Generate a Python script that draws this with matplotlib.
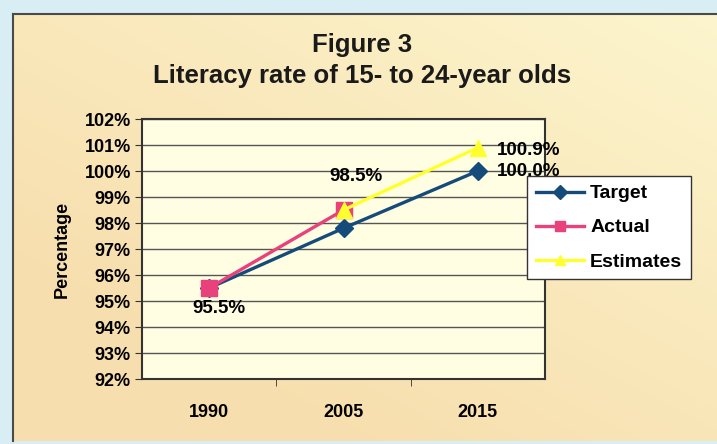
import numpy as np
import matplotlib
matplotlib.use("Agg")
import matplotlib.pyplot as plt

# data
years = ["1990", "2005", "2015"]
target = [95.5, 97.8, 100.0]
actual = [95.5, 98.5, None]
estimates = [None, 98.5, 100.9]
yticks = [92, 93, 94, 95, 96, 97, 98, 99, 100, 101, 102]

plt.rcParams['font.family'] = ['Liberation Sans', 'DejaVu Sans']
plt.rcParams['font.weight'] = 'bold'

W, H = 717, 444
fig = plt.figure(figsize=(W / 100, H / 100), dpi=100)
fig.patch.set_facecolor("#D8EEF4")

# cream panel with a soft gradient (peach at bottom left)
bg = fig.add_axes([13 / W, 3 / H, 1 - 13 / W, 1 - 17 / H])
gx, gy = np.meshgrid(np.linspace(0, 1, 200), np.linspace(0, 1, 200))
t = np.clip(0.6 * (1 - gx) + 0.7 * gy, 0, 1) / 1.3
c_top = np.array([252, 245, 205]) / 255
c_bot = np.array([246, 216, 165]) / 255
img = c_top[None, None, :] * (1 - t[..., None]) + c_bot[None, None, :] * t[..., None]
bg.imshow(img, aspect="auto", extent=[0, 1, 0, 1], origin="upper")
bg.set_xlim(0, 1)
bg.set_ylim(0, 1)
bg.set_xticks([])
bg.set_yticks([])
for s in ["right", "bottom"]:
    bg.spines[s].set_visible(False)
for s in ["left", "top"]:
    bg.spines[s].set_color("#4a4a4a")
    bg.spines[s].set_linewidth(1.5)

fig.text(362 / W, 1 - 45 / H, "Figure 3", ha="center", va="center",
         fontsize=18.5, fontweight="bold", color="#1a1a1a")
fig.text(362 / W, 1 - 76 / H, "Literacy rate of 15- to 24-year olds", ha="center",
         va="center", fontsize=18.5, fontweight="bold", color="#1a1a1a")

# plot area
left, right, top, bottom = 142, 545, 119, 379
ax = fig.add_axes([left / W, 1 - bottom / H, (right - left) / W, (bottom - top) / H])
ax.set_facecolor("#FFFDE2")
x = np.arange(len(years))

ax.plot(x, target, color="#154B7A", lw=2.4, marker="D", ms=9, zorder=3, label="Target")
ax.plot(x, [np.nan if v is None else v for v in actual], color="#E8417B", lw=2.4,
        marker="s", ms=11, zorder=4, label="Actual")
ax.plot(x, [np.nan if v is None else v for v in estimates], color="#FFFF2E", lw=2.4,
        marker="^", ms=11, zorder=5, label="Estimates")

ax.set_xlim(-0.5, 2.5)
ax.set_ylim(92, 102)
ax.set_yticks(yticks)
ax.set_yticklabels([f"{v}%" for v in yticks], fontsize=13, fontweight="bold")
ax.set_xticks(x)
ax.set_xticklabels(years, fontsize=13, fontweight="bold")
ax.tick_params(axis="x", length=0, pad=18)
ax.set_xticks([0.5, 1.5], minor=True)
ax.tick_params(axis="x", which="minor", length=5, direction="out", color="#333333")
ax.tick_params(axis="y", length=5, direction="out", color="#333333", pad=3)
ax.grid(axis="y", color="#555555", lw=1)
ax.set_axisbelow(True)
for s in ax.spines.values():
    s.set_color("#333333")
    s.set_linewidth(1.5)
ax.set_ylabel("Percentage", fontsize=13, fontweight="bold", labelpad=10)

lbl = dict(textcoords="offset points", va="center", fontsize=13.5, fontweight="bold")
ax.annotate("95.5%", (0, target[0]), xytext=(7, -15), ha="center", **lbl)
ax.annotate("98.5%", (1, actual[1]), xytext=(9, 24), ha="center", **lbl)
ax.annotate("100.9%", (2, estimates[2]), xytext=(14, -2), ha="left", **lbl)
ax.annotate("100.0%", (2, target[2]), xytext=(14, 0), ha="left", **lbl)

leg = fig.legend(loc="upper left", bbox_to_anchor=(527 / W, 1 - 176 / H),
                 frameon=True, fancybox=False, fontsize=14, handlelength=2.5,
                 borderpad=0.45, labelspacing=0.85, handletextpad=0.3,
                 borderaxespad=0)
leg.get_frame().set_edgecolor("#333333")
leg.get_frame().set_facecolor("white")
leg.get_frame().set_alpha(1)
for h in leg.legend_handles:
    h.set_markersize(7)

fig.savefig("out.png", dpi=100)
